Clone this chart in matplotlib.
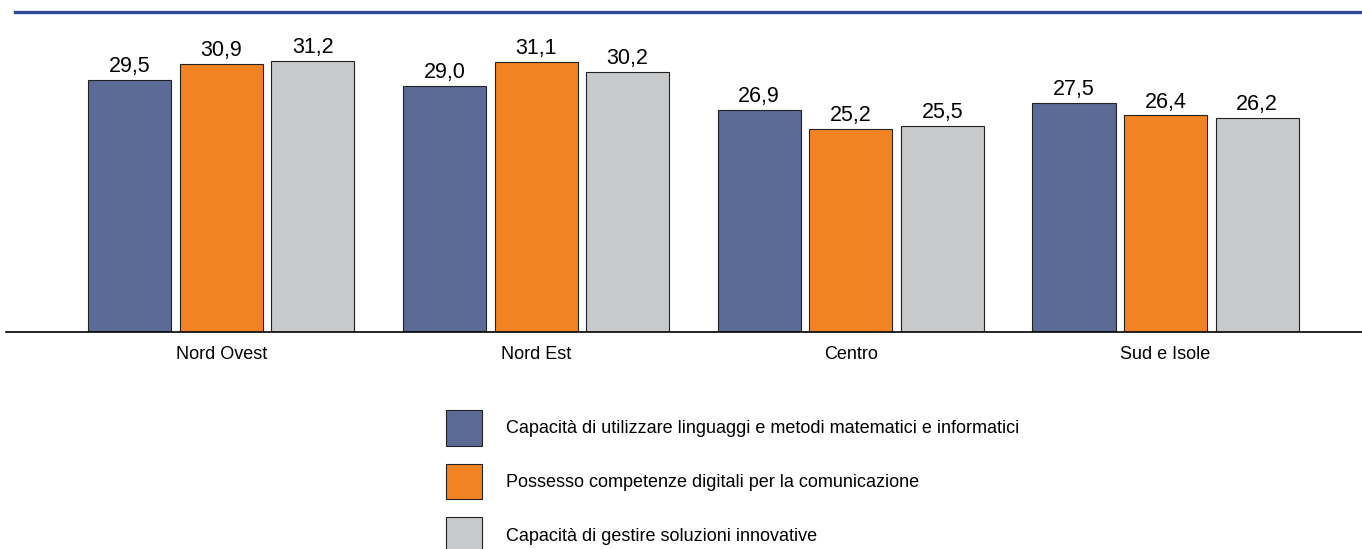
import numpy as np
import matplotlib.pyplot as plt
from matplotlib.lines import Line2D

# Dati
regioni = ['Nord Ovest', 'Nord Est', 'Centro', 'Sud e Isole']
serie = [
    'Capacità di utilizzare linguaggi e metodi matematici e informatici',
    'Possesso competenze digitali per la comunicazione',
    'Capacità di gestire soluzioni innovative',
]
matematici = [29.5, 29.0, 26.9, 27.5]
digitali = [30.9, 31.1, 25.2, 26.4]
innovative = [31.2, 30.2, 25.5, 26.2]

colori = ['#5c6b96', '#f28322', '#c8c9cb']

plt.rcParams['font.family'] = ['Liberation Sans', 'DejaVu Sans']

fig = plt.figure(figsize=(13.62, 5.49), dpi=100)
ax = fig.add_axes([6 / 1362, 1 - 332 / 549, 1 - 6 / 1362, 320 / 549])

x = np.arange(len(regioni))
larghezza = 0.264
passo = 0.291
valori = [matematici, digitali, innovative]
barre = []
for i, (vals, col) in enumerate(zip(valori, colori)):
    b = ax.bar(x + (i - 1) * passo, vals, width=larghezza, color=col,
               edgecolor='#222222', linewidth=0.8, label=serie[i])
    ax.bar_label(b, labels=[f'{v:.1f}'.replace('.', ',') for v in vals],
                 padding=2, fontsize=15.5)
    barre.append(b)

ax.set_ylim(7.4, 7.4 + 320 / 11.4)
ax.set_xlim(-0.684, 3.624)
ax.set_xticks(x)
ax.set_xticklabels(regioni, fontsize=13)
ax.tick_params(axis='x', length=0, pad=10)
ax.set_yticks([])
for s in ['top', 'right', 'left']:
    ax.spines[s].set_visible(False)
ax.spines['bottom'].set_linewidth(1.2)

# Linea blu in alto
fig.add_artist(Line2D([15 / 1362, 1], [1 - 12 / 549, 1 - 12 / 549],
                      color='#2e4a94', linewidth=2.4, transform=fig.transFigure))

fig.legend(handles=barre, loc='upper left',
           bbox_to_anchor=(446 / 1362, 1 - 410 / 549),
           frameon=False, fontsize=13, borderpad=0, borderaxespad=0,
           handlelength=1.99, handleheight=2.66, labelspacing=1.0,
           handletextpad=1.33)

fig.savefig('out.png', dpi=100)
